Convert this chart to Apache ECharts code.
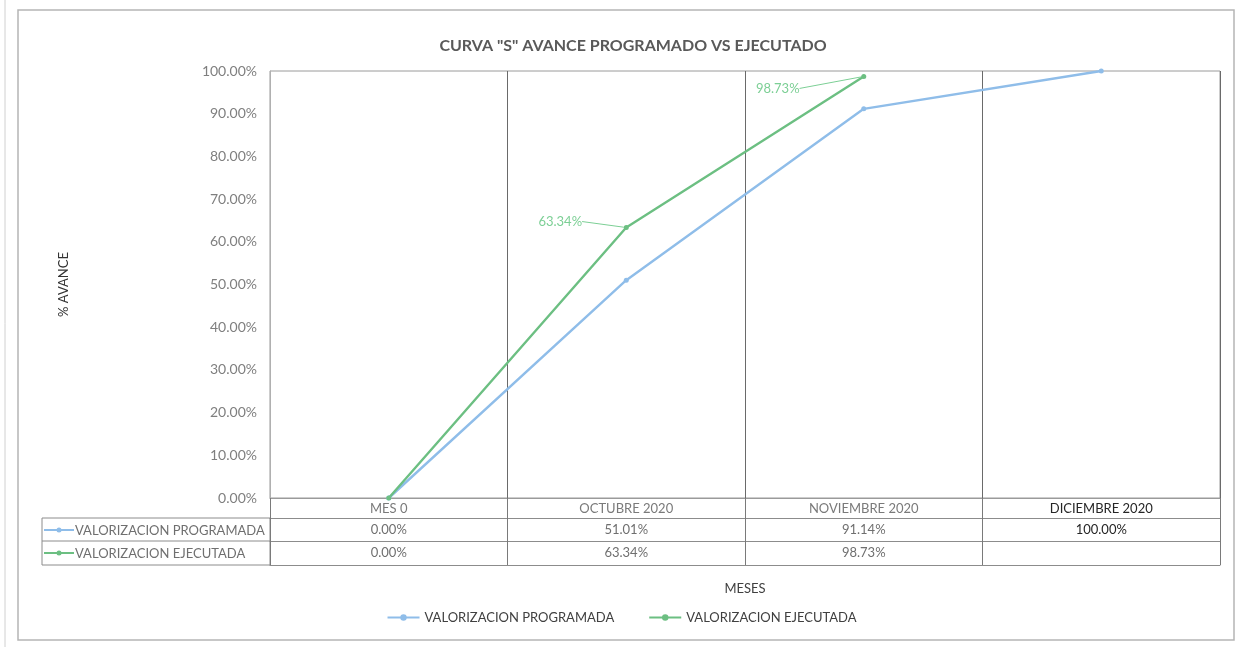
<!DOCTYPE html>
<html>
<head>
<meta charset="utf-8">
<script src="https://cdn.jsdelivr.net/npm/echarts@6/dist/echarts.min.js"></script>
<style>
  html, body { margin: 0; padding: 0; background: #fff; }
  #chart { width: 1243px; height: 647px; }
</style>
</head>
<body>
<div id="chart"></div>
<script>
const meses = ['MES 0', 'OCTUBRE 2020', 'NOVIEMBRE 2020', 'DICIEMBRE 2020'];
const programada = [0, 51.01, 91.14, 100];
const ejecutada = [0, 63.34, 98.73, null];
const yTicks = [0, 10, 20, 30, 40, 50, 60, 70, 80, 90, 100];
const nombres = ['VALORIZACION PROGRAMADA', 'VALORIZACION EJECUTADA'];

const azul = '#8fbde9';
const verde = '#6cbf82';
const fuente = 'Lato, "Open Sans", sans-serif';

const pct = v => (v == null ? '' : v.toFixed(2) + '%');

// labels only on the executed points that carry a leader line in the original
const labelShift = { 1: [-66, -6], 2: [-86, 12] };
const ejecutadaData = ejecutada.map((v, i) => (labelShift[i] ? { value: v, label: { show: true } } : v));

const chart = echarts.init(document.getElementById('chart'));

const tableAxis = (offset, values, darkIdx) => ({
  type: 'category',
  data: values.map(pct),
  position: 'bottom',
  offset: offset,
  axisLine: { show: true, lineStyle: { color: '#8c8c8c' } },
  axisTick: { show: false },
  splitLine: { show: false },
  axisLabel: {
    interval: 0,
    margin: 5,
    fontFamily: fuente,
    fontSize: 13,
    color: (val, idx) => (idx === darkIdx ? '#262626' : '#6f6f6f')
  }
});

chart.setOption({
  animation: false,
  textStyle: { fontFamily: fuente },
  title: {
    text: 'CURVA "S" AVANCE PROGRAMADO VS EJECUTADO',
    left: 628,
    textAlign: 'center',
    top: 33,
    textStyle: { fontFamily: fuente, fontSize: 16, fontWeight: 'bold', color: '#595959' }
  },
  grid: {
    left: 270, right: 23, top: 71, bottom: 149,
    show: true, borderColor: '#9a9a9a', borderWidth: 1
  },
  legend: {
    bottom: 18,
    left: 'center',
    itemWidth: 32,
    itemHeight: 8,
    itemGap: 34,
    textStyle: { fontFamily: fuente, fontSize: 13, color: '#404040' },
    data: nombres
  },
  xAxis: [
    {
      type: 'category',
      data: meses,
      position: 'bottom',
      name: 'MESES',
      nameLocation: 'middle',
      nameGap: 84,
      nameTextStyle: { fontFamily: fuente, fontSize: 13, color: '#404040' },
      axisLine: { show: true, lineStyle: { color: '#9a9a9a' } },
      axisTick: { show: true, interval: 0, length: 67, lineStyle: { color: '#7a7a7a' } },
      splitLine: { show: true, interval: 0, lineStyle: { color: '#6a6a6a', width: 1 } },
      axisLabel: {
        interval: 0,
        margin: 4,
        fontFamily: fuente,
        fontSize: 13,
        color: (val, idx) => (idx === 3 ? '#262626' : '#7a7a7a')
      }
    },
    tableAxis(20, programada, 3),
    tableAxis(43, ejecutada, -1),
    {
      type: 'category',
      data: meses,
      position: 'bottom',
      offset: 67,
      axisLine: { show: true, lineStyle: { color: '#8c8c8c' } },
      axisTick: { show: false },
      axisLabel: { show: false }
    }
  ],
  yAxis: {
    type: 'value',
    min: yTicks[0],
    max: yTicks[yTicks.length - 1],
    interval: yTicks[1] - yTicks[0],
    name: '% AVANCE',
    nameLocation: 'middle',
    nameGap: 200,
    nameTextStyle: { fontFamily: fuente, fontSize: 13, color: '#333' },
    axisLine: { show: true, lineStyle: { color: '#b0b0b0' } },
    axisTick: { show: false },
    splitLine: { show: false },
    axisLabel: {
      margin: 13,
      fontFamily: fuente,
      fontSize: 14,
      color: '#7f7f7f',
      formatter: v => v.toFixed(2) + '%'
    }
  },
  series: [
    {
      name: nombres[0],
      type: 'line',
      data: programada,
      symbol: 'circle',
      symbolSize: 5,
      lineStyle: { color: azul, width: 2.4 },
      itemStyle: { color: azul }
    },
    {
      name: nombres[1],
      type: 'line',
      data: ejecutadaData,
      symbol: 'circle',
      symbolSize: 5,
      lineStyle: { color: verde, width: 2.4 },
      itemStyle: { color: verde },
      label: {
        show: false,
        position: 'inside',
        formatter: p => pct(p.value),
        fontFamily: fuente,
        fontSize: 13,
        color: '#7ccf95'
      },
      labelLine: { show: true, lineStyle: { color: '#7ccf95', width: 1 } },
      labelLayout: p => {
        const s = labelShift[p.dataIndex];
        return s ? { dx: s[0], dy: s[1] } : {};
      }
    }
  ],
  graphic: [
    // outer chart frame
    { type: 'rect', shape: { x: 18, y: 10, width: 1216, height: 630 }, style: { fill: null, stroke: '#b5b5b5', lineWidth: 1.5 } },
    { type: 'line', shape: { x1: 5, y1: 0, x2: 5, y2: 647 }, style: { stroke: '#d0d0d0', lineWidth: 1 } },
    // data-table legend column
    { type: 'rect', shape: { x: 42, y: 518, width: 228, height: 47 }, style: { fill: null, stroke: '#8c8c8c', lineWidth: 1 } },
    { type: 'line', shape: { x1: 42, y1: 541, x2: 270, y2: 541 }, style: { stroke: '#8c8c8c', lineWidth: 1 } },
    { type: 'line', shape: { x1: 44, y1: 530, x2: 74, y2: 530 }, style: { stroke: azul, lineWidth: 2 } },
    { type: 'circle', shape: { cx: 59, cy: 530, r: 2.5 }, style: { fill: azul } },
    { type: 'text', x: 75, y: 531, style: { text: nombres[0], fontFamily: fuente, fontSize: 13, fill: '#6f6f6f', verticalAlign: 'middle' } },
    { type: 'line', shape: { x1: 44, y1: 553, x2: 74, y2: 553 }, style: { stroke: verde, lineWidth: 2 } },
    { type: 'circle', shape: { cx: 59, cy: 553, r: 2.5 }, style: { fill: verde } },
    { type: 'text', x: 75, y: 554, style: { text: nombres[1], fontFamily: fuente, fontSize: 13, fill: '#6f6f6f', verticalAlign: 'middle' } }
  ]
});
</script>
</body>
</html>
